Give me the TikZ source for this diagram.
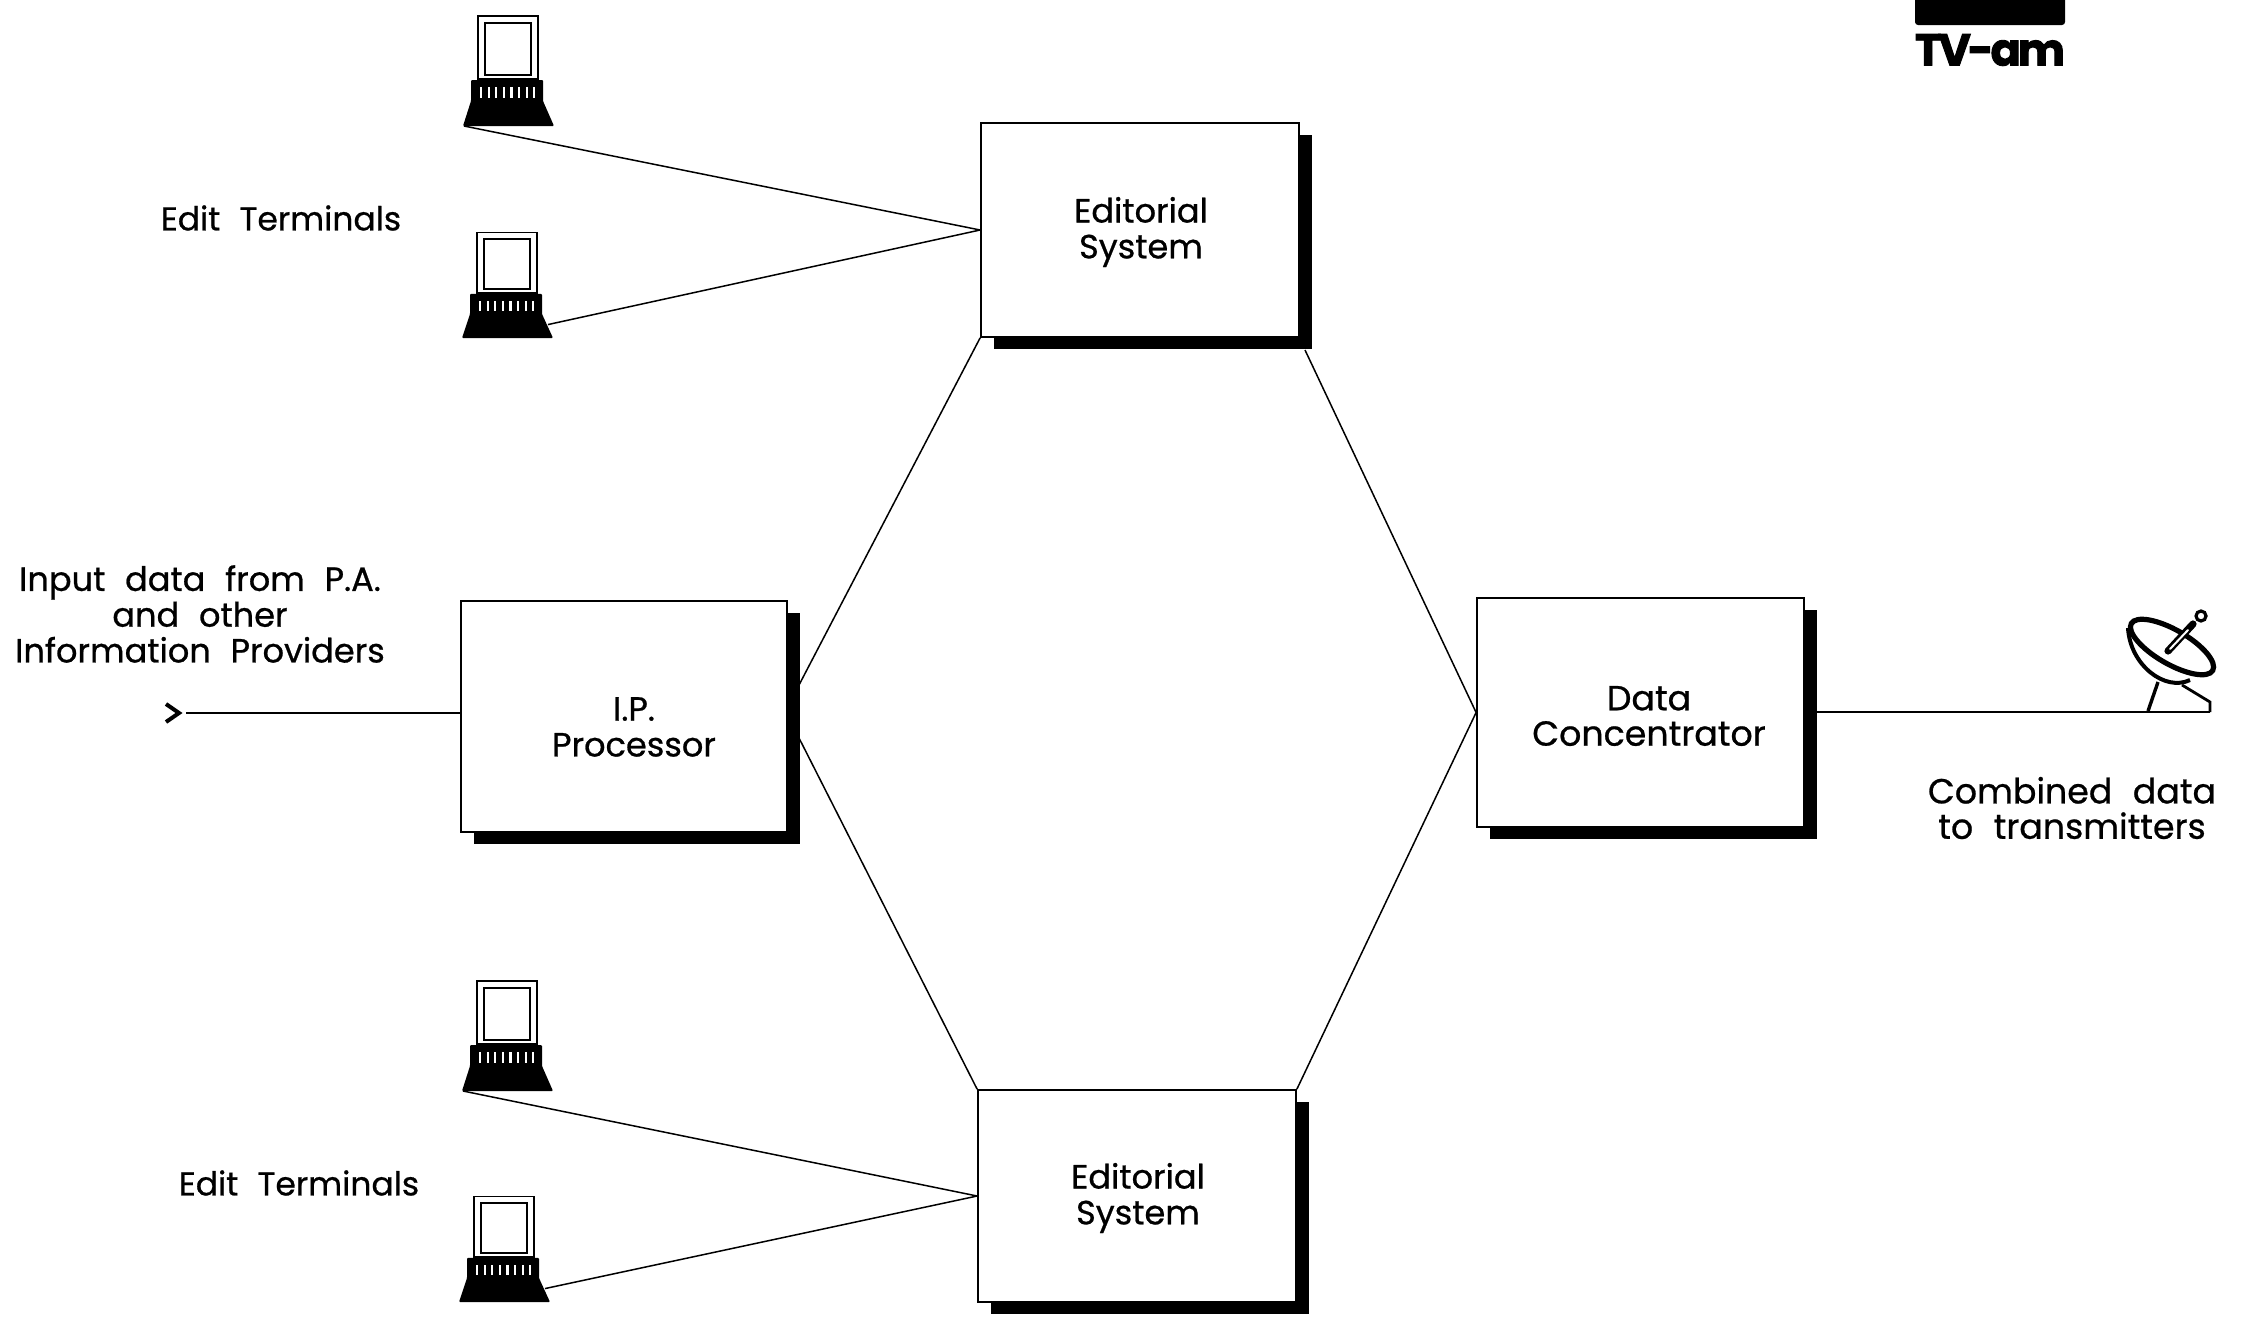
\documentclass[tikz,border=0pt]{standalone}
\usepackage{fontspec}
\setmainfont[WordSpace=2.2,FakeBold=0.7]{Poppins}
\newfontfamily\logofont[FakeBold=2,LetterSpace=-7]{Poppins}
\usetikzlibrary{shadows}
\tikzset{
  px/.style={x=0.5pt,y=-0.5pt},
  boxshape/.style={draw=black,line width=0.9pt,fill=white,rectangle,inner sep=0pt,
    drop shadow={shadow xshift=6.5pt,shadow yshift=-6pt,fill=black,opacity=1}},
  wire/.style={draw=black,line width=0.75pt},
  txt/.style={align=center,inner sep=0pt,font=\fontsize{16.8pt}{18pt}\selectfont},
  terminal/.pic={
    \fill[black,rounded corners=0.5pt] (0,0) -- (8,-25) -- (8,-46) -- (80,-46) -- (80,-25) -- (91,0) -- cycle;
    \foreach \k in {0,...,7}{\fill[white] ({17+\k*7.6},-28) rectangle ({19.2+\k*7.6},-39);}
    \draw[black,line width=0.9pt,fill=white] (15,-47) rectangle (75,-110);
    \draw[black,line width=0.9pt,fill=white] (22,-51) rectangle (68,-103);
    \coordinate (-a) at (1,0);
    \coordinate (-b) at (86,-14);
  },
}
\begin{document}
\begin{tikzpicture}[px]
\useasboundingbox (0,0) rectangle (2248,1317);
% boxes
\node[boxshape,minimum width=159pt,minimum height=107pt] (ed1) at (1140,230) {};
\node[boxshape,minimum width=163pt,minimum height=115.5pt] (ip) at (624,716.5) {};
\node[boxshape,minimum width=163.5pt,minimum height=114.5pt] (dc) at (1640.5,712.5) {};
\node[boxshape,minimum width=159pt,minimum height=106pt] (ed2) at (1137,1196) {};
\node[txt] (ed1t) at (1141,232) {Editorial\\[-0.1pt]System};
\node[txt] (ed2t) at (1138,1198) {Editorial\\[-0.1pt]System};
\node[txt] (ipt) at (634,727) {I.P.\\[-0.1pt]Processor};
\node[txt,font=\fontsize{17.4pt}{18pt}\selectfont] (dct) at (1649,716) {Data\\[-0.3pt]Concentrator};
\node[txt,font=\fontsize{16.5pt}{18pt}\selectfont] (lab1) at (281,218) {Edit Terminals};
\node[txt,font=\fontsize{16.5pt}{18pt}\selectfont] (lab2) at (299,1183) {Edit Terminals};
\node[txt] (lab3) at (200,614) {Input data from P.A.\\[-0.1pt]and other\\[-0.1pt]Information Providers};
\node[txt,font=\fontsize{17.4pt}{18pt}\selectfont] (lab4) at (2072,808) {Combined data\\[-0.3pt]to transmitters};
% terminals
\pic (t1) at (463,126) {terminal};
\pic[yscale=0.96] (t2) at (462,338) {terminal};
\pic (t3) at (462,1091) {terminal};
\pic[yscale=0.96] (t4) at (459,1302) {terminal};
% named connection points
\coordinate (ipa) at (799,685);
\coordinate (ipb) at (799,738);
\coordinate (eda) at (1305,350);
\coordinate (inend) at (186,713);
\coordinate (dishfoot) at (2210,712);
% connectors
\draw[wire] (t1-a) -- (ed1.west);
\draw[wire] (t2-b) -- (ed1.west);
\draw[wire] (t3-a) -- (ed2.west);
\draw[wire] (t4-b) -- (ed2.west);
\draw[wire] (ipa) -- (ed1.south west);
\draw[wire] (eda) -- (dc.west);
\draw[wire] (ipb) -- (ed2.north west);
\draw[wire] (dc.west) -- (ed2.north east);
\draw[wire] (inend) -- (inend -| ip.west);
\draw[wire] (dishfoot -| dc.east) -- (dishfoot);
% chevron
\draw[black,line width=2pt,line join=miter] (166,704) -- (179,713) -- (166,722);
% dish
\draw[black,line width=2pt] (2128,628) .. controls (2130,665) and (2165,692) .. (2190,680);
\draw[black,line width=1.7pt] (2158,682) -- (2148,711);
\draw[black,line width=1.4pt] (2182,685) -- (2210,702) -- (dishfoot);
\draw[black,line width=2.6pt,fill=white] (2172,647) circle[x radius=47,y radius=17,rotate=-30];
\draw[black,line width=3.6pt,line cap=round] (2168,651) -- (2193,624);
\draw[white,line width=1pt,line cap=round] (2170,649) -- (2188,630);
\draw[black,line width=1.6pt] (2201,616) circle[radius=5];
% logo
\fill[black,rounded corners=1.5pt] (1915,-5) rectangle (2065,25);
\node[inner sep=0pt,anchor=center] (logo) at (1990,50) {\resizebox{75pt}{!}{\fontsize{20pt}{20pt}\selectfont\logofont\bfseries TV-am}};
\end{tikzpicture}
\end{document}
